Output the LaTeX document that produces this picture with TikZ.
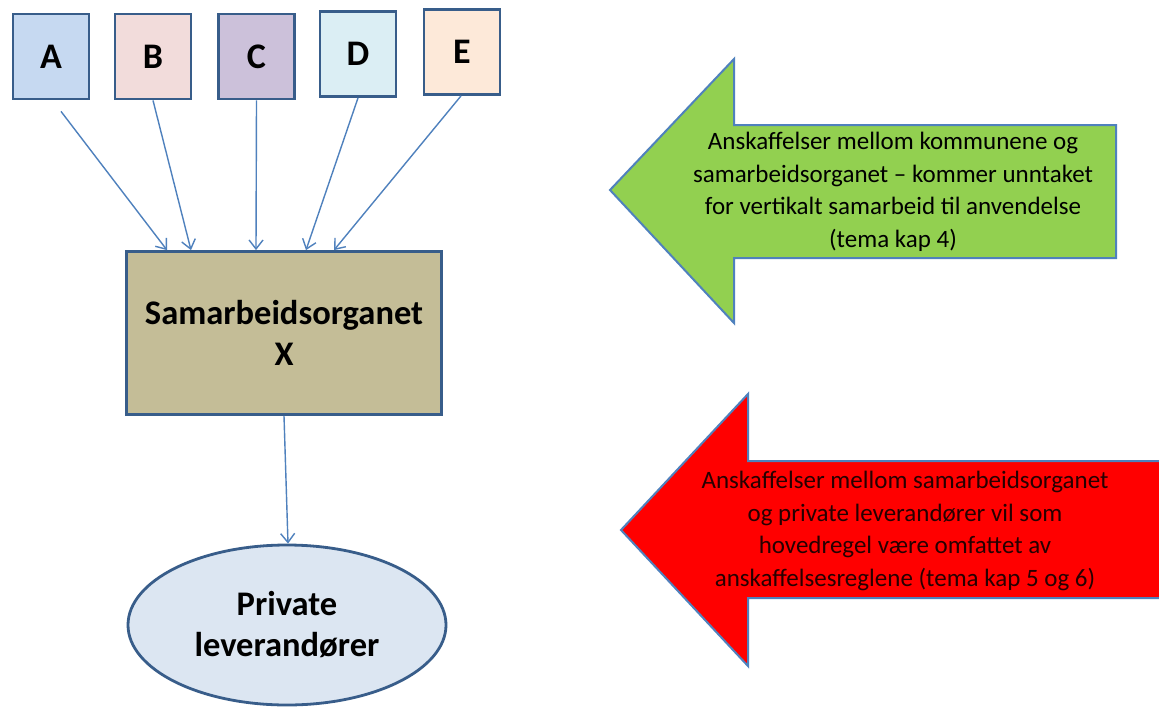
\documentclass[tikz,border=0pt]{standalone}
\usepackage{fontspec}
\setmainfont{Carlito}
\usetikzlibrary{arrows.meta,shapes.geometric}
\definecolor{bord}{HTML}{385D8A}
\definecolor{conn}{HTML}{4F81BD}
\definecolor{fa}{HTML}{C6D9F1}
\definecolor{fb}{HTML}{F2DCDB}
\definecolor{fc}{HTML}{CCC1DA}
\definecolor{fd}{HTML}{DBEEF4}
\definecolor{fe}{HTML}{FDE9D9}
\definecolor{fx}{HTML}{C4BD97}
\definecolor{fp}{HTML}{DCE6F2}
\definecolor{grn}{HTML}{92D050}
\definecolor{rd}{HTML}{FF0000}
\tikzset{
  letterbox/.style={draw=bord, line width=2.8pt, minimum width=76pt, minimum height=85pt, inner sep=0pt, font=\fontsize{36}{40}\selectfont\bfseries},
  conarrow/.style={draw=conn, line width=1.4pt, -{Straight Barb[length=9pt,width=14pt,line width=1.4pt]}},
  bigarrow/.style={line width=2pt, draw=conn, line join=miter},
  arrowtext/.style={align=center, font=\fontsize{25}{32.5}\selectfont},
  biglabel/.style={draw=bord, line width=2.8pt, inner sep=0pt, align=center, font=\fontsize{34.5}{41}\selectfont\bfseries}
}
\begin{document}
\begin{tikzpicture}[x=1pt,y=-1pt]
\clip (0,0) rectangle (1159,709);
\fill[white] (0,0) rectangle (1159,709);
% letter boxes
\node[letterbox, fill=fa] (A) at (51,56.5) {A};
\node[letterbox, fill=fb] (B) at (153,56.5) {B};
\node[letterbox, fill=fc] (C) at (256.5,56.5) {C};
\node[letterbox, fill=fd] (D) at (358,54) {D};
\node[letterbox, fill=fe] (E) at (462,52) {E};
% main box
\node[biglabel, fill=fx, minimum width=315pt, minimum height=163pt] (S) at (284,333) {\raisebox{-3pt}{Samarbeidsorganet}\\\raisebox{-3pt}{X}};
% ellipse
\node[biglabel, fill=fp, ellipse, minimum width=318pt, minimum height=160pt] (P) at (287,625) {\raisebox{-5pt}{Private}\\\raisebox{-5pt}{leverandører}};
% connectors
\draw[conarrow] ([xshift=10pt,yshift=-11pt]A.south) -- ([xshift=-117pt]S.north);
\draw[conarrow] ([xshift=0pt]B.south) -- ([xshift=-93pt]S.north);
\draw[conarrow] (C.south) -- ([xshift=-28pt]S.north);
\draw[conarrow] (D.south) -- ([xshift=22pt]S.north);
\draw[conarrow] ([xshift=-1pt]E.south) -- ([xshift=50pt]S.north);
\draw[conarrow] (S.south) -- ([xshift=1pt]P.north);
% green arrow
\draw[bigarrow, fill=grn] (610,190) -- (734,59) -- (734,125) -- (1116,125) -- (1116,258) -- (734,258) -- (734,323) -- cycle;
\node[arrowtext] (G) at (893,192) {Anskaffelser mellom kommunene og\\samarbeidsorganet – kommer unntaket\\for vertikalt samarbeid til anvendelse\\(tema kap 4)};
% red arrow
\draw[bigarrow, fill=rd] (621,530) -- (748,394) -- (748,461) -- (1175,461) -- (1175,598) -- (748,598) -- (748,666) -- cycle;
\node[arrowtext, text=black!85!red] (R) at (905,531) {Anskaffelser mellom samarbeidsorganet\\og private leverandører vil som\\hovedregel være omfattet av\\anskaffelsesreglene (tema kap 5 og 6)};
\end{tikzpicture}
\end{document}
